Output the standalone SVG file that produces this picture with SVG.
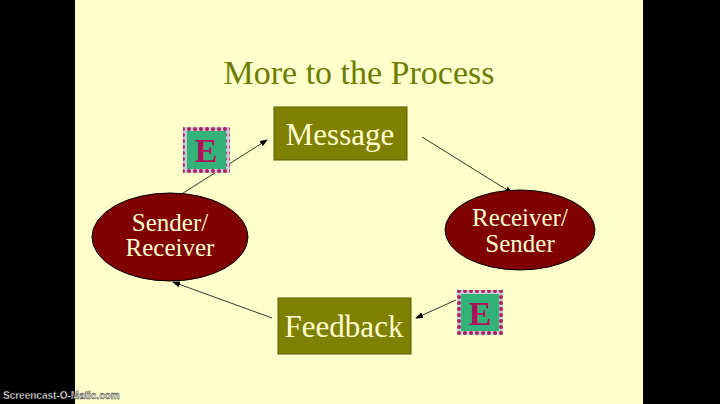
<svg xmlns="http://www.w3.org/2000/svg" width="720" height="404" viewBox="0 0 720 404">
<defs>
<marker id="ah" markerWidth="8" markerHeight="6" refX="7" refY="3" orient="auto" markerUnits="userSpaceOnUse"><path d="M0,0 L8,3 L0,6 Z" fill="#000"/></marker>
<pattern id="dots" width="6" height="6" patternUnits="userSpaceOnUse"><rect width="6" height="6" fill="#c9c9d9"/><circle cx="3" cy="3" r="2" fill="#b0205a"/></pattern>
</defs>
<style>
.box{fill:#808000;stroke:#5a5a00;stroke-width:1}
.ell{fill:#800000;stroke:#000;stroke-width:1}
.t{font-family:"Liberation Serif",serif;fill:#ffffd0;text-anchor:middle}
.e{fill:#33b27a}
.et{font-family:"Liberation Serif",serif;font-weight:bold;fill:#b0105a;font-size:34px;text-anchor:middle}
.c{stroke:#000;stroke-width:0.8;fill:none;marker-end:url(#ah)}
</style>
<rect width="720" height="404" fill="#000"/>
<rect x="75" y="0" width="568" height="404" fill="#ffffcc"/>
<text x="359" y="84" font-family="Liberation Serif,serif" font-size="34" fill="#6b7d00" text-anchor="middle">More to the Process</text>
<g id="connectors">
<line class="c" x1="422" y1="137" x2="512" y2="193"/>
<line class="c" x1="456" y1="300" x2="416" y2="318"/>
<line class="c" x1="272" y1="318" x2="173" y2="282"/>
<line class="c" x1="180" y1="195" x2="267" y2="140"/>
</g>
<g id="message"><rect class="box" x="274" y="107" width="133" height="53"/><text class="t" x="340" y="145" font-size="31">Message</text></g>
<g id="feedback"><rect class="box" x="278" y="298" width="133" height="56"/><text class="t" x="344" y="337" font-size="31">Feedback</text></g>
<g id="sender"><ellipse class="ell" cx="170" cy="237" rx="78" ry="44"/><text class="t" x="170" y="231" font-size="25">Sender/</text><text class="t" x="170" y="256" font-size="25">Receiver</text></g>
<g id="receiver"><ellipse class="ell" cx="520" cy="230" rx="75" ry="40"/><text class="t" x="520" y="226" font-size="25">Receiver/</text><text class="t" x="520" y="252" font-size="25">Sender</text></g>
<g id="e1"><rect x="183" y="127" width="47" height="46" fill="url(#dots)"/><rect class="e" x="187" y="131" width="39" height="38"/><text class="et" x="206" y="162">E</text></g>
<g id="e2"><rect x="457" y="290" width="46" height="45" fill="url(#dots)"/><rect class="e" x="461" y="294" width="38" height="37"/><text class="et" x="480" y="325">E</text></g>
<text x="3" y="399" font-family="Liberation Sans,sans-serif" font-weight="bold" font-size="10" fill="#fff" stroke="#000" stroke-width="0.4">Screencast-O-Matic.com</text>
</svg>
